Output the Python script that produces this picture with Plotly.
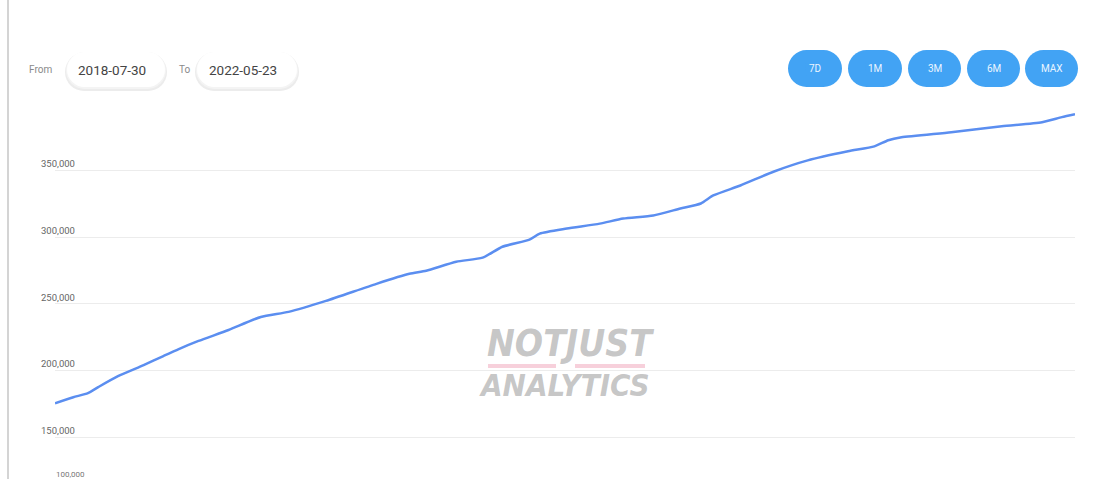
import plotly.graph_objects as go

# Cumulative total over time
dates = [
    "2018-07-30", "2018-08-24", "2018-09-13", "2018-09-27", "2018-10-24",
    "2018-11-28", "2018-12-25", "2019-01-15", "2019-02-11", "2019-03-24",
    "2019-05-07", "2019-06-14", "2019-08-04", "2019-10-12", "2019-11-26",
    "2019-12-19", "2020-01-29", "2020-03-05", "2020-04-01", "2020-05-08",
    "2020-05-22", "2020-06-28", "2020-08-12", "2020-09-13", "2020-10-24",
    "2020-11-30", "2020-12-28", "2021-01-14", "2021-02-20", "2021-04-07",
    "2021-05-23", "2021-07-17", "2021-08-22", "2021-09-10", "2021-09-28",
    "2021-12-05", "2022-02-12", "2022-04-08", "2022-05-05", "2022-05-23",
]
totals = [
    175500, 180000, 183100, 187600, 195800,
    204100, 210900, 216100, 222200, 230400,
    240200, 244000, 252200, 265000, 272500,
    274800, 281600, 284600, 292800, 298100,
    302600, 306400, 310100, 313900, 316200,
    321400, 325200, 331200, 338700, 349200,
    357500, 364300, 368000, 372600, 374800,
    378600, 383100, 386100, 389900, 392100,
]
y_ticks = [150000, 200000, 250000, 300000, 350000]
range_buttons = ["7D", "1M", "3M", "6M", "MAX"]
date_from = "2018-07-30"
date_to = "2022-05-23"

W, H = 1094, 479
L, R, T, B = 55, 19, 105, 15
PW, PH = W - L - R, H - T - B


def px(x):
    return (x - L) / PW


def py(y):
    return (H - B - y) / PH


def pill(x0, x1, y0, y1, color):
    """Rounded pill made of two end circles and a middle rectangle (pixel bounds)."""
    d = y1 - y0
    r = d / 2
    common = dict(xref="paper", yref="paper", fillcolor=color,
                  line=dict(width=0), layer="below")
    return [
        dict(type="circle", x0=px(x0), x1=px(x0 + d), y0=py(y1), y1=py(y0), **common),
        dict(type="circle", x0=px(x1 - d), x1=px(x1), y0=py(y1), y1=py(y0), **common),
        dict(type="rect", x0=px(x0 + r), x1=px(x1 - r), y0=py(y1), y1=py(y0), **common),
    ]


def label(text, x, y, size, color, family="Roboto", **kw):
    return dict(text=text, xref="paper", yref="paper", x=px(x), y=py(y),
                xanchor="center", yanchor="middle", showarrow=False,
                font=dict(family=family, size=size, color=color), **kw)


fig = go.Figure()
fig.add_trace(go.Scatter(
    x=dates, y=totals, mode="lines",
    line=dict(color="#5b8ef0", width=2.5, shape="spline", smoothing=0.6),
    hoverinfo="x+y",
))

shapes = []
annotations = []

# left border of the card
shapes.append(dict(type="line", xref="paper", yref="paper",
                   x0=px(8), x1=px(8), y0=py(0), y1=py(H),
                   line=dict(color="#d4d4d4", width=2), layer="below"))

# date inputs with a soft shadow
for (x0, x1), text in [((67, 165), date_from), ((197, 297), date_to)]:
    shapes += pill(x0 - 2, x1 + 2, 53, 91, "#ececec")
    shapes += pill(x0 - 1, x1 + 1, 52, 89, "#f4f4f4")
    shapes += pill(x0, x1, 52, 87, "#ffffff")
    annotations.append(label(text, (x0 + x1) / 2 - 4, 70, 13.5, "#444444"))

annotations.append(label("From", 40, 70, 10, "#8a8a8a"))
annotations.append(label("To", 184, 70, 10, "#8a8a8a"))

# range selector buttons
btn_x = [(788, 842), (848, 902), (908, 961), (967, 1020), (1025, 1078)]
for (x0, x1), text in zip(btn_x, range_buttons):
    shapes += pill(x0, x1, 50, 87, "#42a3f4")
    annotations.append(label(text, (x0 + x1) / 2, 69, 10, "#eaf5ff"))

# watermark
wm_font = "DejaVu Sans Condensed, Roboto Condensed, Roboto"
annotations.append(label("<b><i>NOTJUST</i></b>", 570, 343, 37,
                         "rgba(150,150,150,0.55)", family=wm_font))
annotations.append(label("<b><i>ANALYTICS</i></b>", 564, 385, 31,
                         "rgba(150,150,150,0.55)", family=wm_font))
for x0, x1 in [(488, 556), (575, 645)]:
    shapes.append(dict(type="rect", xref="paper", yref="paper",
                       x0=px(x0), x1=px(x1), y0=py(368), y1=py(364),
                       fillcolor="rgba(240,170,190,0.55)", line=dict(width=0)))

# small label along the bottom edge
annotations.append(label("100,000", 70, 474, 8, "#777777"))

fig.update_layout(
    width=W, height=H,
    margin=dict(l=L, r=R, t=T, b=B),
    paper_bgcolor="#ffffff", plot_bgcolor="#ffffff",
    showlegend=False,
    shapes=shapes, annotations=annotations,
    xaxis=dict(showgrid=False, zeroline=False, showticklabels=False, showline=False,
               range=[dates[0], dates[-1]]),
    yaxis=dict(range=[130000, 399000], tickvals=y_ticks,
               ticktext=[f"{v:,}" for v in y_ticks],
               showgrid=True, gridcolor="#ececec", gridwidth=1,
               zeroline=False, showline=False,
               ticklabelposition="inside top", ticklabelstandoff=-17,
               tickfont=dict(family="Roboto", size=9.5, color="#666666")),
)

fig.write_html("out.html")
